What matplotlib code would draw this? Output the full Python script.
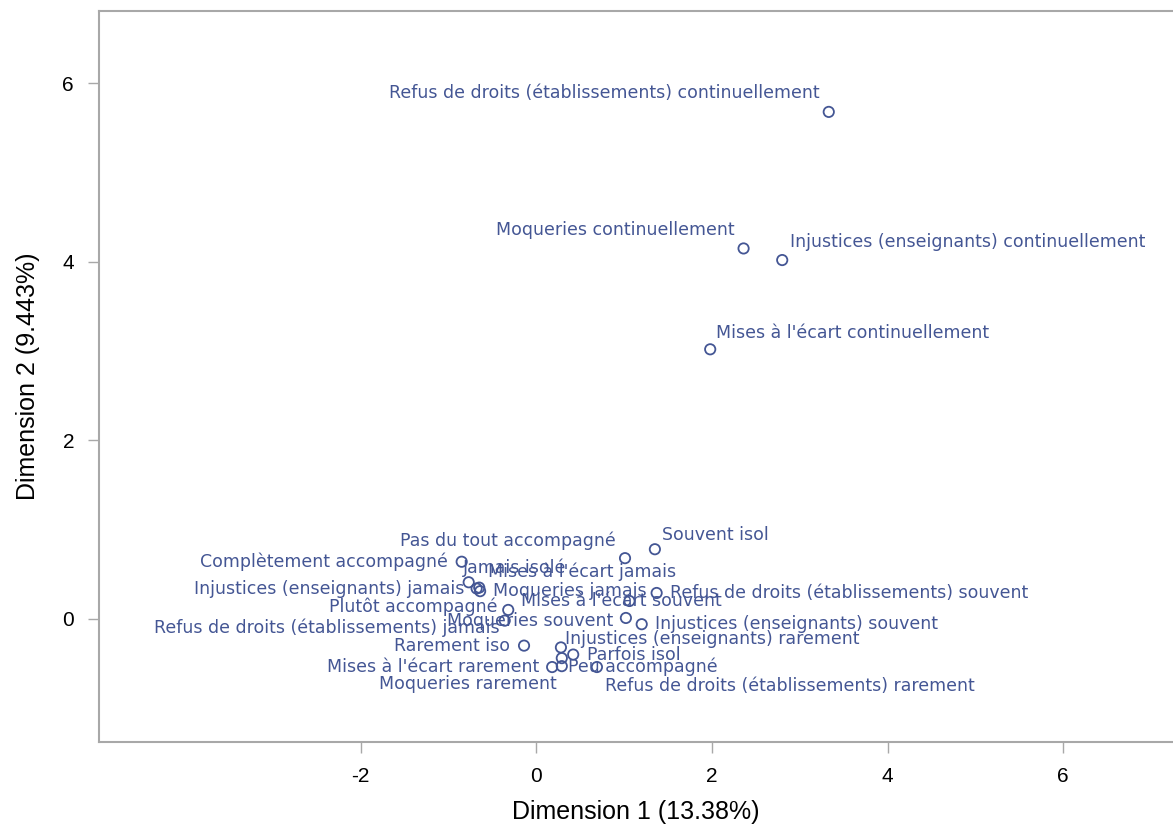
import matplotlib
matplotlib.use("Agg")
import matplotlib.pyplot as plt

plt.rcParams["axes.unicode_minus"] = False

# coordonnées des modalités (ACM)
labels = [
    "Refus de droits (établissements) continuellement",
    "Moqueries continuellement",
    "Injustices (enseignants) continuellement",
    "Mises à l'écart continuellement",
    "Souvent isol",
    "Pas du tout accompagné",
    "Complètement accompagné",
    "Jamais isolé",
    "Injustices (enseignants) jamais",
    "Mises à l'écart jamais",
    "Moqueries jamais",
    "Refus de droits (établissements) souvent",
    "Plutôt accompagné",
    "Mises à l'écart souvent",
    "Refus de droits (établissements) jamais",
    "Moqueries souvent",
    "Injustices (enseignants) souvent",
    "Rarement iso",
    "Injustices (enseignants) rarement",
    "Parfois isol",
    "Peu accompagné",
    "Mises à l'écart rarement",
    "Moqueries rarement",
    "Refus de droits (établissements) rarement",
]
dim1 = [3.33, 2.36, 2.80, 1.98, 1.35, 1.01, -0.85, -0.77, -0.68, -0.65, -0.64, 1.37,
        -0.32, 1.06, -0.36, 1.02, 1.20, -0.14, 0.28, 0.42, 0.29, 0.18, 0.29, 0.69]
dim2 = [5.68, 4.15, 4.02, 3.02, 0.78, 0.68, 0.64, 0.41, 0.34, 0.35, 0.31, 0.29,
        0.10, 0.20, -0.02, 0.01, -0.06, -0.30, -0.32, -0.40, -0.44, -0.54, -0.53, -0.54]

# placement des étiquettes (décalage en pixels, alignement)
placement = [
    (-9, 19, "right"), (-9, 18, "right"), (8, 18, "left"), (6, 16, "left"),
    (7, 14, "left"), (-9, 17, "right"), (-14, 0, "right"), (-6, 15, "left"),
    (-12, 0, "right"), (9, 16, "left"), (13, 0, "left"), (13, 0, "left"),
    (-11, 3, "right"), (-8, 0, "center"), (-5, -7, "right"), (-13, -3, "right"),
    (13, 0, "left"), (-14, 0, "right"), (4, 8, "left"), (14, 0, "left"),
    (6, -9, "left"), (-13, 0, "right"), (-5, -18, "right"), (8, -19, "left"),
]

col = "#445694"

fig = plt.figure(figsize=(11.73, 8.30), dpi=100)
ax = fig.add_axes([0.0844, 0.106, 0.9156, 0.8807])

ax.scatter(dim1, dim2, s=55, facecolors="none", edgecolors=col, linewidths=1.3, zorder=3)
for lab, x, y, (dx, dy, ha) in zip(labels, dim1, dim2, placement):
    ax.annotate(lab, (x, y), xytext=(dx, dy), textcoords="offset pixels",
                ha=ha, va="center", color=col, fontsize=12.5, family="DejaVu Sans")

ax.set_xlim(-4.98, 7.25)
ax.set_ylim(-1.38, 6.81)
ax.set_xticks([-2, 0, 2, 4, 6])
ax.set_yticks([0, 2, 4, 6])

for s in ["left", "bottom", "top"]:
    ax.spines[s].set_color("#a8a8a8")
    ax.spines[s].set_linewidth(1.5)
ax.spines["right"].set_visible(False)
ax.tick_params(length=8, width=1, color="#a8a8a8", pad=10)
for t in ax.get_xticklabels() + ax.get_yticklabels():
    t.set_family("Liberation Sans")
    t.set_fontsize(15)

ax.set_xlabel("Dimension 1 (13.38%)", family="Liberation Sans", fontsize=18, labelpad=10)
ax.set_ylabel("Dimension 2 (9.443%)", family="Liberation Sans", fontsize=18, labelpad=16)

fig.savefig("out.png", dpi=100)
